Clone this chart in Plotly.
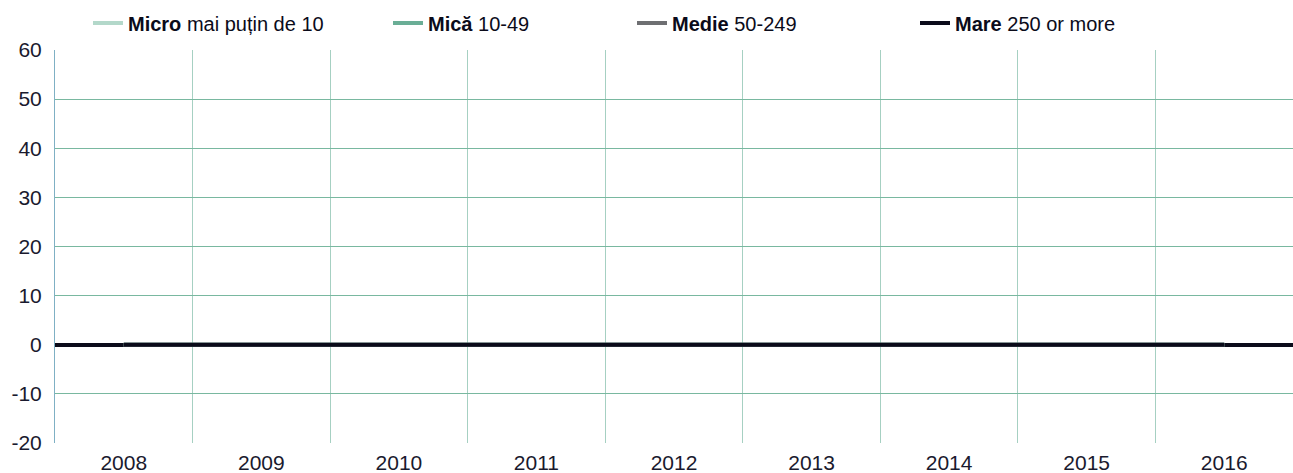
import plotly.graph_objects as go

years = ["2008", "2009", "2010", "2011", "2012", "2013", "2014", "2015", "2016"]
series_names = ["<b>Micro</b> mai puțin de 10", "<b>Mică</b> 10-49", "<b>Medie</b> 50-249", "<b>Mare</b> 250 or more"]
micro = [0, 0, 0, 0, 0, 0, 0, 0, 0]
mica = [0, 0, 0, 0, 0, 0, 0, 0, 0]
medie = [0, 0, 0, 0, 0, 0, 0, 0, 0]
mare = [0, 0, 0, 0, 0, 0, 0, 0, 0]
y_ticks = [-20, -10, 0, 10, 20, 30, 40, 50, 60]
y_tick_labels = ["-20", "-10", "0", "10", "20", "30", "40", "50", "60"]

colors = ["#b3d8ca", "#6aae96", "#6e6f72", "#0b0b1a"]
legend_x_px = [88, 388, 632, 915]
legend_ids = ["legend", "legend2", "legend3", "legend4"]

fig = go.Figure()
for vals, name, col, lid in zip([micro, mica, medie, mare], series_names, colors, legend_ids):
    fig.add_trace(go.Scatter(x=years, y=vals, name=name, mode="lines",
                             line=dict(color=col, width=4), legend=lid))

legend_font = dict(family="Liberation Sans, Arial, sans-serif", size=20, color="#0b0b1a")
tick_font = dict(family="Liberation Sans, Arial, sans-serif", size=21, color="#1a1a2e")
layout_legends = {}
for lid, px in zip(legend_ids, legend_x_px):
    layout_legends[lid] = dict(orientation="h", xref="container", yref="container",
                               x=px / 1293, y=1 - 23 / 473, xanchor="left", yanchor="middle",
                               font=legend_font, bgcolor="rgba(0,0,0,0)", itemwidth=30)

fig.update_layout(
    width=1293, height=473,
    margin=dict(l=55, r=0, t=50, b=30, autoexpand=False),
    paper_bgcolor="white", plot_bgcolor="white",
    font=tick_font,
    showlegend=True,
    **layout_legends,
    xaxis=dict(type="category", tickson="boundaries", showgrid=True,
               gridcolor="#a6d0c2", gridwidth=1, ticks="", showline=False,
               tickfont=tick_font, range=[-0.5, 8.5], automargin=False,
               ticklabelstandoff=5),
    yaxis=dict(range=[-20, 60], tickvals=y_ticks, ticktext=y_tick_labels, showgrid=True,
               gridcolor="#79b8a0", gridwidth=1, zeroline=True,
               zerolinecolor="#0b0b1a", zerolinewidth=4,
               showline=True, linecolor="#7fb0c4", linewidth=1,
               ticks="", tickfont=tick_font, ticklabelstandoff=8, automargin=False),
)

fig.write_html("out.html", config={"displayModeBar": False},
               post_script="document.body.style.margin='0';")
